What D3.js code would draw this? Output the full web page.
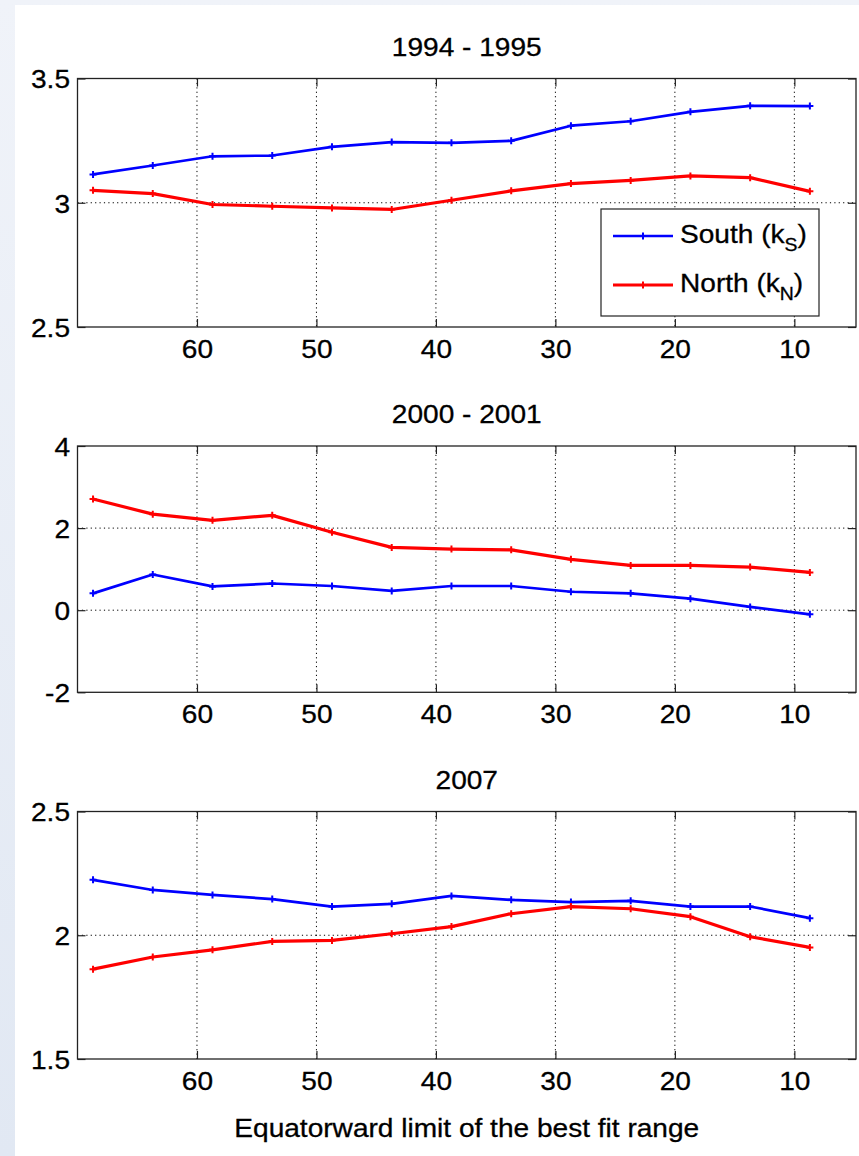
<!DOCTYPE html>
<html>
<head>
<meta charset="utf-8">
<script src="https://cdn.jsdelivr.net/npm/d3@7"></script>
<style>
html,body{margin:0;padding:0;}
body{width:859px;height:1156px;overflow:hidden;background:linear-gradient(#f0f3f9,#e1e8f3);}
svg{display:block;}
text{font-family:"Liberation Sans",Arial,Helvetica,sans-serif;fill:#000;stroke:#000;stroke-width:0.3px;}
</style>
</head>
<body>
<svg id="chart" width="859" height="1156"></svg>
<script>
// ---- data ----
const xLimits = [68.7, 63.7, 58.7, 53.7, 48.7, 43.7, 38.7, 33.7, 28.7, 23.7, 18.7, 13.7, 8.7];
const xTicks = [60, 50, 40, 30, 20, 10];
const titles = ["1994 - 1995", "2000 - 2001", "2007"];
const south1995 = [3.114, 3.150, 3.187, 3.190, 3.225, 3.244, 3.241, 3.249, 3.310, 3.328, 3.366, 3.390, 3.389];
const north1995 = [3.050, 3.037, 2.993, 2.986, 2.979, 2.973, 3.010, 3.048, 3.077, 3.090, 3.108, 3.101, 3.046];
const south2001 = [0.41, 0.87, 0.58, 0.65, 0.59, 0.47, 0.59, 0.59, 0.45, 0.41, 0.28, 0.08, -0.10];
const north2001 = [2.71, 2.34, 2.19, 2.31, 1.90, 1.53, 1.49, 1.47, 1.24, 1.09, 1.09, 1.05, 0.92];
const south2007 = [2.224, 2.183, 2.163, 2.146, 2.116, 2.127, 2.159, 2.143, 2.134, 2.139, 2.116, 2.116, 2.069];
const north2007 = [1.863, 1.912, 1.941, 1.975, 1.979, 2.006, 2.035, 2.087, 2.116, 2.107, 2.075, 1.994, 1.951];
const yTicks1995 = [2.5, 3, 3.5];
const yTicks2001 = [-2, 0, 2, 4];
const yTicks2007 = [1.5, 2, 2.5];
const yDomains = [[2.5, 3.5], [-2, 4], [1.5, 2.5]];
const legendLabels = [["South (k", "S", ")"], ["North (k", "N", ")"]];
const xAxisLabel = "Equatorward limit of the best fit range";

// ---- layout ----
const svg = d3.select("#chart");
svg.append("rect").attr("x", 15).attr("y", 5).attr("width", 844).attr("height", 1151).attr("fill", "#fff");

const L = 77.5, R = 856;
const panelTops = [78.5, 446, 811.5];
const panelBottoms = [327, 692.3, 1059];
const x = d3.scaleLinear().domain([70, 4.84]).range([L, R]);
const SX = 1.08, FS = 26;
const fmt = d => String(d); // plain hyphen minus like the original

const panels = [
  {title: titles[0], south: south1995, north: north1995, ticks: yTicks1995},
  {title: titles[1], south: south2001, north: north2001, ticks: yTicks2001},
  {title: titles[2], south: south2007, north: north2007, ticks: yTicks2007}
];

function stretchedText(g, tx, ty, str, anchor, size) {
  return g.append("text")
    .attr("transform", `translate(${tx},${ty}) scale(${SX},1)`)
    .attr("text-anchor", anchor)
    .attr("font-size", size || FS)
    .text(str);
}

function plusPath(px, py, s) {
  return `M${px - s},${py}H${px + s}M${px},${py - s}V${py + s}`;
}

panels.forEach((p, i) => {
  const top = panelTops[i], bot = panelBottoms[i];
  const y = d3.scaleLinear().domain(yDomains[i]).range([bot, top]);
  const g = svg.append("g");

  // grid
  const grid = g.append("g").attr("stroke", "#000").attr("stroke-width", 1).attr("stroke-dasharray", "1.2,3.2");
  grid.selectAll("line.vx").data(xTicks).join("line")
    .attr("x1", d => x(d)).attr("x2", d => x(d)).attr("y1", top).attr("y2", bot);
  grid.selectAll("line.hy").data(p.ticks.slice(1, -1)).join("line")
    .attr("y1", d => y(d)).attr("y2", d => y(d)).attr("x1", L).attr("x2", R);

  // axes via d3 axis (ticks inward)
  const xb = g.append("g").attr("transform", `translate(0,${bot})`)
    .call(d3.axisBottom(x).tickValues(xTicks).tickSizeInner(-8).tickSizeOuter(0).tickPadding(0).tickFormat(fmt));
  xb.select(".domain").remove();
  xb.selectAll(".tick line").attr("stroke", "#222").attr("stroke-width", 1.2);
  xb.selectAll(".tick text").attr("y", 0).attr("dy", null)
    .attr("font-size", FS).attr("font-family", "Liberation Sans, Arial, sans-serif")
    .attr("transform", `translate(0,31) scale(${SX},1)`);

  const xt = g.append("g").attr("transform", `translate(0,${top})`)
    .call(d3.axisTop(x).tickValues(xTicks).tickSizeInner(-8).tickSizeOuter(0).tickFormat(""));
  xt.select(".domain").remove();
  xt.selectAll(".tick line").attr("stroke", "#222").attr("stroke-width", 1.2);

  const yl = g.append("g").attr("transform", `translate(${L},0)`)
    .call(d3.axisLeft(y).tickValues(p.ticks).tickSizeInner(-8).tickSizeOuter(0).tickPadding(0).tickFormat(fmt));
  yl.select(".domain").remove();
  yl.selectAll(".tick line").attr("stroke", "#222").attr("stroke-width", 1.2);
  yl.selectAll(".tick text").attr("x", 0).attr("dy", null).attr("y", 0)
    .attr("font-size", FS).attr("font-family", "Liberation Sans, Arial, sans-serif")
    .attr("text-anchor", "end")
    .attr("transform", `translate(-7.5,9.3) scale(${SX},1)`);

  const yr = g.append("g").attr("transform", `translate(${R},0)`)
    .call(d3.axisRight(y).tickValues(p.ticks).tickSizeInner(-8).tickSizeOuter(0).tickFormat(""));
  yr.select(".domain").remove();
  yr.selectAll(".tick line").attr("stroke", "#222").attr("stroke-width", 1.2);

  // box
  g.append("rect").attr("x", L).attr("y", top).attr("width", R - L).attr("height", bot - top)
    .attr("fill", "none").attr("stroke", "#222").attr("stroke-width", 1.3);

  // series
  const line = d3.line().x((d, k) => x(xLimits[k])).y(d => y(d));
  [[p.south, "#0000ff", 2.7], [p.north, "#ff0000", 3.2]].forEach(([vals, col, w]) => {
    g.append("path").datum(vals).attr("d", line).attr("fill", "none")
      .attr("stroke", col).attr("stroke-width", w).attr("stroke-linejoin", "round");
    g.append("path")
      .attr("d", vals.map((v, k) => plusPath(x(xLimits[k]), y(v), 3.5)).join(""))
      .attr("stroke", col).attr("stroke-width", 2).attr("fill", "none");
  });

  // title
  stretchedText(svg, (L + R) / 2, top - 23, p.title, "middle");
});

// legend
const lg = svg.append("g");
lg.append("rect").attr("x", 601).attr("y", 209).attr("width", 218).attr("height", 107)
  .attr("fill", "#fff").attr("stroke", "#222").attr("stroke-width", 1.2);
[["#0000ff", 2.7, 236, 243], ["#ff0000", 3.2, 285, 292]].forEach(([col, w, ly, by], k) => {
  lg.append("line").attr("x1", 613).attr("x2", 673).attr("y1", ly).attr("y2", ly)
    .attr("stroke", col).attr("stroke-width", w);
  lg.append("path").attr("d", plusPath(643, ly, 3.5)).attr("stroke", col).attr("stroke-width", 2);
  const t = lg.append("text")
    .attr("transform", `translate(680,${by}) scale(${SX},1)`)
    .attr("font-size", FS);
  t.append("tspan").text(legendLabels[k][0]);
  t.append("tspan").attr("font-size", 18).attr("dy", 8).text(legendLabels[k][1]);
  t.append("tspan").attr("dy", -8).text(legendLabels[k][2]);
});

// x-axis label
stretchedText(svg, (L + R) / 2, 1137, xAxisLabel, "middle");
</script>
</body>
</html>
